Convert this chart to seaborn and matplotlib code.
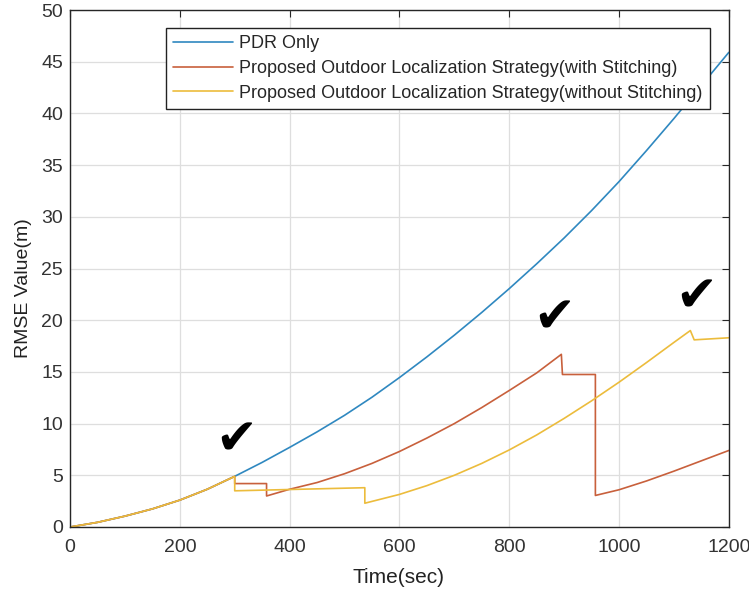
import matplotlib
matplotlib.use("Agg")
import matplotlib.pyplot as plt
import numpy as np
import pandas as pd
import seaborn as sns

# ---- data -------------------------------------------------------------
# common start (all three strategies coincide until the first fix at 300 s)
t_common = [0, 50, 100, 150, 200, 250, 300]
v_common = [0.0, 0.45, 1.05, 1.75, 2.6, 3.65, 4.9]

# PDR only
t_pdr = [350, 400, 450, 500, 550, 600, 650, 700, 750, 800, 850, 900,
         950, 1000, 1050, 1100, 1150, 1200]
v_pdr = [6.25, 7.7, 9.2, 10.8, 12.55, 14.45, 16.45, 18.55, 20.75, 23.05,
         25.45, 27.95, 30.6, 33.4, 36.4, 39.5, 42.7, 45.9]

# proposed strategy with stitching
t_stitch = [300, 358, 358, 400, 450, 500, 550, 600, 650, 700, 750, 800,
            850, 895, 897, 957, 957, 1000, 1050, 1100, 1150, 1200]
v_stitch = [4.2, 4.2, 3.0, 3.65, 4.3, 5.15, 6.15, 7.3, 8.6, 10.0, 11.55,
            13.2, 14.9, 16.7, 14.75, 14.75, 3.05, 3.6, 4.45, 5.4, 6.4, 7.4]

# proposed strategy without stitching
t_nostitch = [300, 537, 537, 600, 650, 700, 750, 800, 850, 900, 950, 1000,
              1050, 1100, 1130, 1137, 1200]
v_nostitch = [3.5, 3.8, 2.3, 3.15, 4.0, 5.0, 6.15, 7.45, 8.9, 10.5, 12.2,
              14.0, 15.9, 17.85, 19.0, 18.1, 18.3]

names = ["PDR Only",
         "Proposed Outdoor Localization Strategy(with Stitching)",
         "Proposed Outdoor Localization Strategy(without Stitching)"]
colors = ["#2f88c0", "#c8603c", "#ecbc3c"]

x_ticks = list(range(0, 1201, 200))
y_ticks = list(range(0, 51, 5))

# ---- frame ------------------------------------------------------------
frames = []
for name, tt, vv in [(names[0], t_pdr, v_pdr),
                     (names[1], t_stitch, v_stitch),
                     (names[2], t_nostitch, v_nostitch)]:
    frames.append(pd.DataFrame({"time": t_common + tt,
                                "rmse": v_common + vv,
                                "series": name}))
df = pd.concat(frames, ignore_index=True)

# ---- plot -------------------------------------------------------------
sns.set_theme(style="whitegrid")
plt.rcParams["font.family"] = ["Liberation Sans", "DejaVu Sans"]

fig = plt.figure(figsize=(7.49, 5.93), dpi=100)
ax = fig.add_axes([0.0935, 0.1113, 0.8795, 0.8718])

sns.lineplot(data=df, x="time", y="rmse", hue="series", hue_order=names,
             palette=dict(zip(names, colors)), estimator=None, sort=False,
             linewidth=1.2, ax=ax)

ax.set_xlim(0, 1200)
ax.set_ylim(0, 50)
ax.set_xticks(x_ticks)
ax.set_yticks(y_ticks)
ax.grid(True, color="#dedede", linewidth=0.9)
ax.set_facecolor("white")
for s in ax.spines.values():
    s.set_color("#262626")
    s.set_linewidth(1.0)
ax.tick_params(direction="in", top=True, right=True, length=5, width=0.8,
               labelsize=14, colors="#262626", labelcolor="#333333")
ax.tick_params(axis="y", pad=5)
ax.tick_params(axis="x", pad=9)

ax.set_xlabel("Time(sec)", fontsize=15, color="#222222")
ax.set_ylabel("RMSE Value(m)", fontsize=14, color="#222222")
ax.xaxis.set_label_coords(0.498, -0.08)
ax.yaxis.set_label_coords(-0.058, 0.462)

# check marks at the fix events
for xc, yc in [(303, 8.4), (881, 20.2), (1141, 22.2)]:
    ax.text(xc, yc, "\u2714", fontsize=36, ha="center", va="center",
            family="DejaVu Sans", color="black")

handles, labels = ax.get_legend_handles_labels()
leg = ax.legend(handles, labels, loc="upper right",
                bbox_to_anchor=(0.971, 0.965), borderaxespad=0,
                frameon=True, fancybox=False, framealpha=1,
                edgecolor="#222222", facecolor="white", fontsize=13,
                labelspacing=0.43, borderpad=0.39, handlelength=3.3,
                handletextpad=0.35)
leg.get_frame().set_linewidth(1.0)
for line in leg.get_lines():
    line.set_linewidth(1.2)

fig.savefig("out.png", dpi=100)
